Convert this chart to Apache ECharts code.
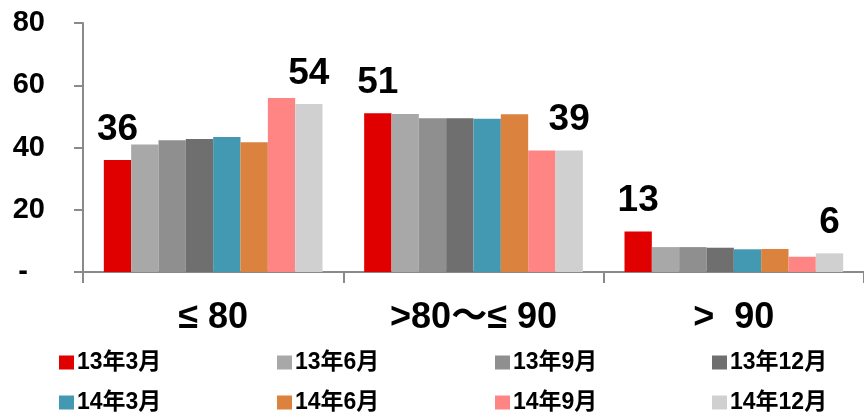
<!DOCTYPE html>
<html>
<head>
<meta charset="utf-8">
<script src="https://cdn.jsdelivr.net/npm/echarts@6/dist/echarts.min.js"></script>
<style>
  html, body { margin: 0; padding: 0; background: #fff; }
  #chart { width: 864px; height: 414px; }
</style>
</head>
<body>
<div id="chart"></div>
<script>
// Score bands on the category axis
const categories = ['≤ 80', '>80～≤ 90', '>  90'];

// Survey periods, one bar series each
const periods = ['13年3月', '13年6月', '13年9月', '13年12月', '14年3月', '14年6月', '14年9月', '14年12月'];

// Share (%) per score band for each period
const v1303 = [36, 51, 13];
const v1306 = [41.0, 50.8, 8.0];
const v1309 = [42.3, 49.4, 8.0];
const v1312 = [42.7, 49.4, 7.8];
const v1403 = [43.4, 49.2, 7.3];
const v1406 = [41.7, 50.7, 7.4];
const v1409 = [55.9, 39.0, 4.9];
const v1412 = [54, 39, 6];

// Value axis ticks
const yTicks = [0, 20, 40, 60, 80];

const seriesValues = [v1303, v1306, v1309, v1312, v1403, v1406, v1409, v1412];
const colors = ['#e10000', '#a8a8a8', '#8f8f8f', '#6f6f6f', '#4499b2', '#da823e', '#ff8585', '#d0d0d0'];
const labelled = [0, 7];

const FONT = "'Liberation Sans', Arial, 'Noto Sans CJK JP', sans-serif";
const axisGray = '#8a8a8a';

const series = periods.map((name, i) => ({
  name: name,
  type: 'bar',
  data: seriesValues[i],
  barGap: '0%',
  barCategoryGap: '16%',
  itemStyle: { color: colors[i] },
  label: labelled.includes(i) ? {
    show: true,
    position: 'top',
    distance: 12,
    color: '#000',
    fontFamily: FONT,
    fontWeight: 'bold',
    fontSize: 37
  } : { show: false }
}));

// Legend laid out as a 4 x 2 table, one legend component per entry
const legendCols = [59, 277, 495, 712];
const legendRows = [351, 391];
const legends = periods.map((name, i) => ({
  left: legendCols[i % 4],
  top: legendRows[Math.floor(i / 4)],
  itemWidth: 15,
  itemHeight: 14,
  itemGap: 0,
  icon: 'rect',
  selectedMode: false,
  padding: 0,
  data: [name],
  textStyle: {
    fontFamily: FONT,
    fontWeight: 'bold',
    fontSize: 23,
    color: '#000',
    padding: [0, 0, 0, -2]
  }
}));

const chart = echarts.init(document.getElementById('chart'));
chart.setOption({
  animation: false,
  backgroundColor: '#fff',
  color: colors,
  grid: { left: 83, top: 23, height: 249, width: 784, containLabel: false },
  legend: legends,
  xAxis: {
    type: 'category',
    data: categories,
    axisLine: { lineStyle: { color: axisGray, width: 2 } },
    axisTick: { show: true, length: 11, inside: false, lineStyle: { color: axisGray, width: 2 } },
    axisLabel: {
      margin: 28,
      color: '#000',
      fontFamily: FONT,
      fontWeight: 'bold',
      fontSize: 36
    }
  },
  yAxis: {
    type: 'value',
    min: yTicks[0],
    max: yTicks[yTicks.length - 1],
    interval: 20,
    splitLine: { show: false },
    axisLine: { show: true, lineStyle: { color: axisGray, width: 2 } },
    axisTick: { show: true, length: 9, lineStyle: { color: axisGray, width: 2 } },
    axisLabel: {
      margin: 38,
      color: '#000',
      fontFamily: FONT,
      fontWeight: 'bold',
      fontSize: 29,
      formatter: v => v === 0 ? '{z|-}' : String(v),
      rich: {
        z: { fontFamily: FONT, fontWeight: 'bold', fontSize: 29, color: '#000', padding: [0, 17, 0, 0] }
      }
    }
  },
  series: series
});
</script>
</body>
</html>
